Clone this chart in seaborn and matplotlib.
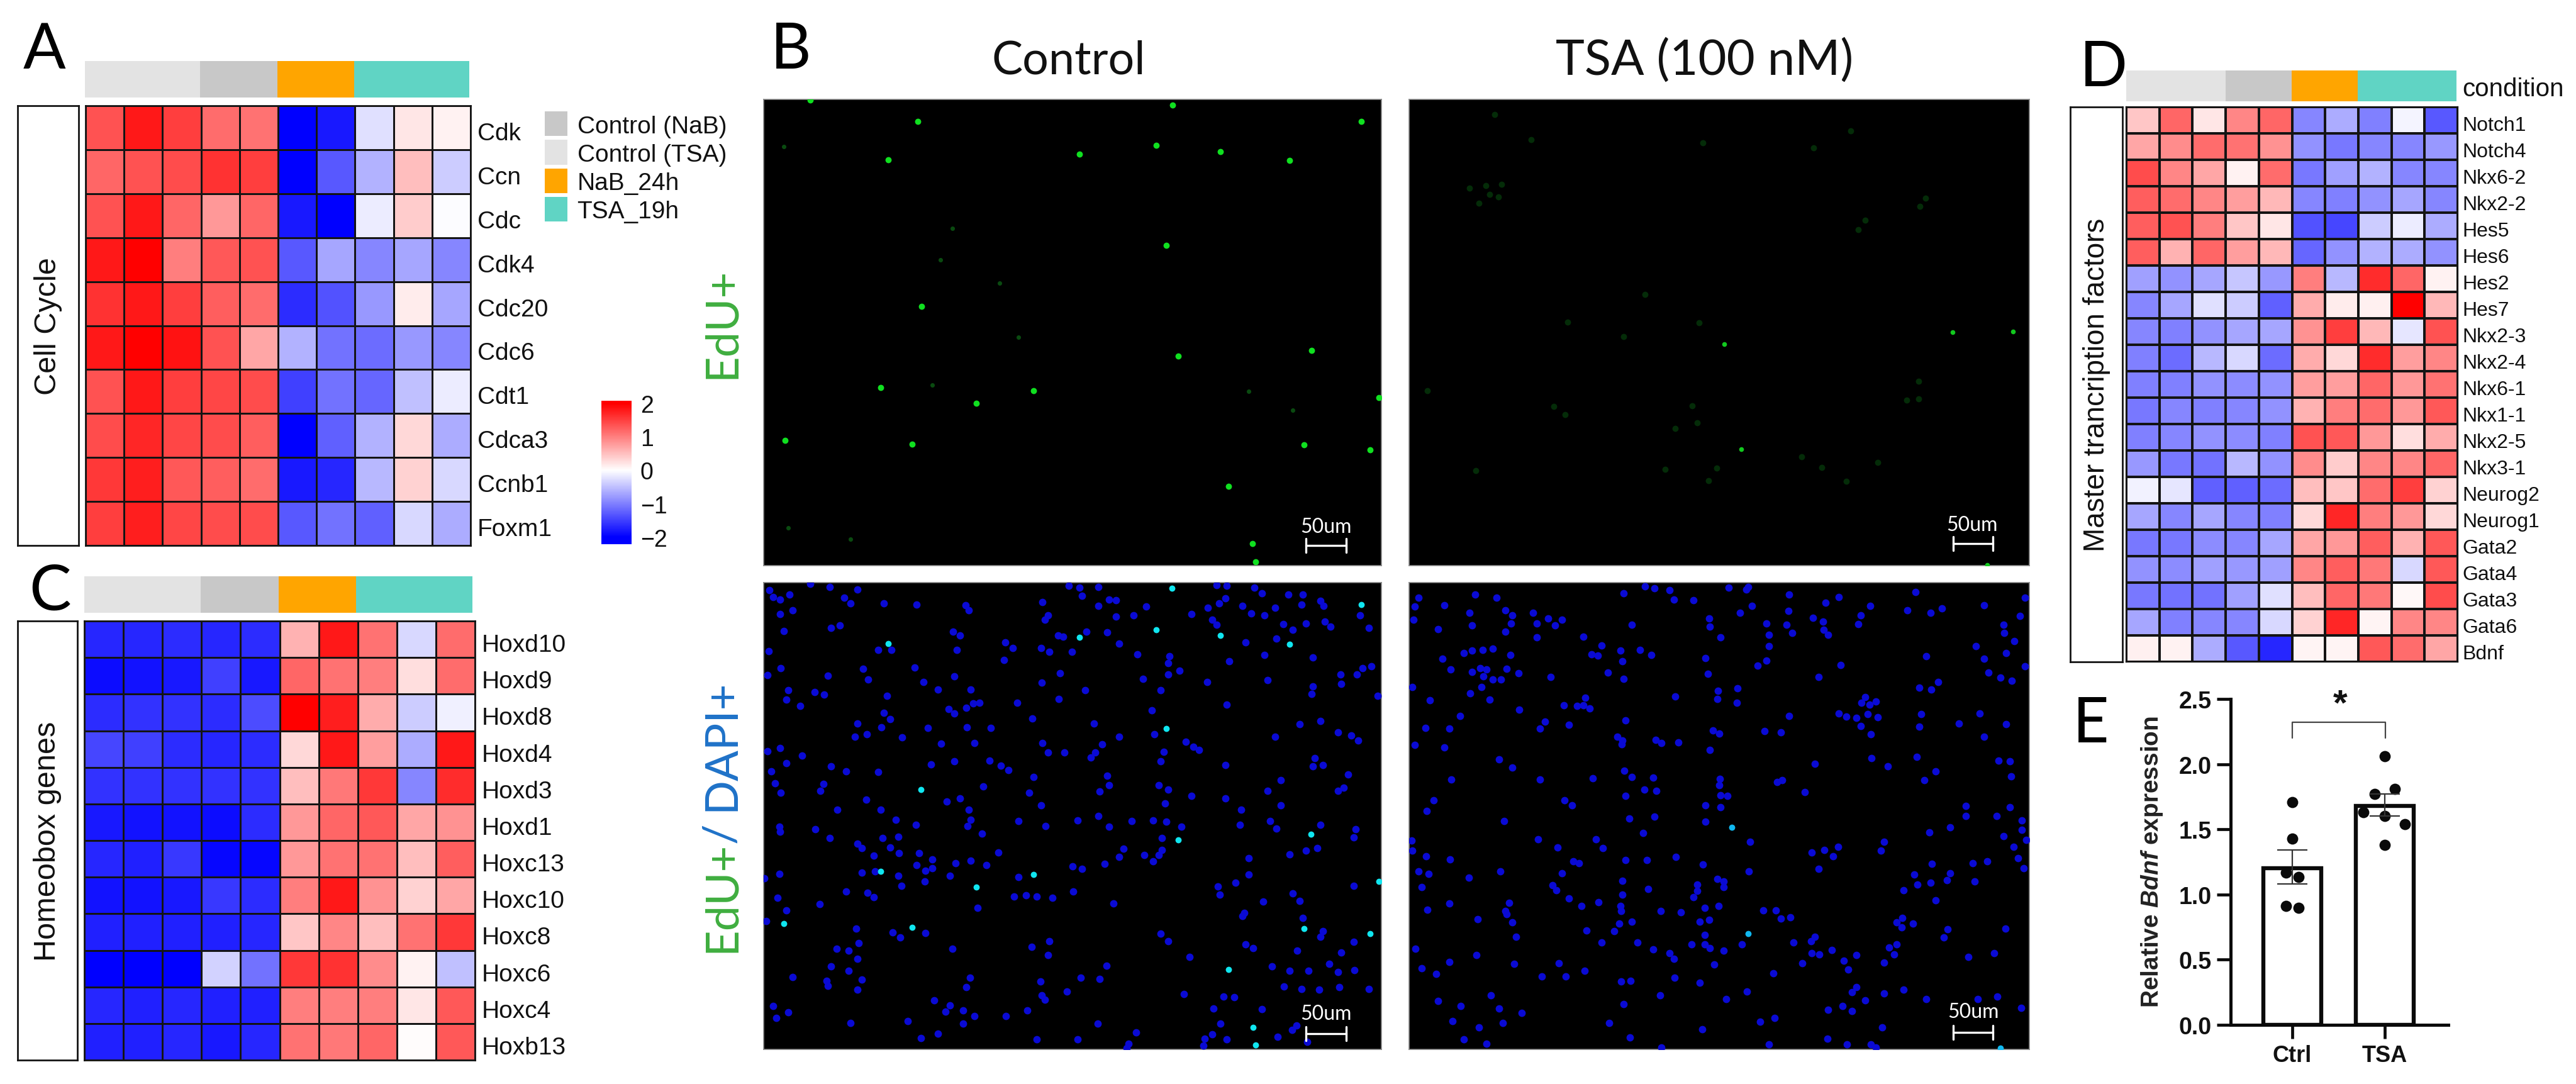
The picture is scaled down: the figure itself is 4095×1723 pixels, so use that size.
import numpy as np
import pandas as pd
import matplotlib
matplotlib.use("Agg")
import matplotlib.pyplot as plt
from matplotlib.colors import ListedColormap, LinearSegmentedColormap
from matplotlib.transforms import ScaledTranslation
import seaborn as sns

W, H = 4095, 1724
DPI = 100

# ---------- DATA ----------
genes_a = ["Cdk", "Ccn", "Cdc", "Cdk4", "Cdc20", "Cdc6", "Cdt1", "Cdca3", "Ccnb1", "Foxm1"]
values_a = [
    [1.35, 1.8, 1.5, 1.15, 1.1, -2, -1.8, -.25, .2, .1],
    [1.2, 1.35, 1.4, 1.6, 1.5, -2, -1.3, -.6, .5, -.4],
    [1.35, 1.8, 1.2, .8, 1.2, -1.8, -2, -.15, .4, -.03],
    [1.8, 2, 1.0, 1.3, 1.35, -1.3, -.7, -.95, -.7, -.95],
    [1.6, 1.8, 1.5, 1.25, 1.15, -1.65, -1.35, -.8, .15, -.7],
    [1.8, 2, 1.85, 1.35, .7, -.6, -1.1, -1.15, -.8, -.95],
    [1.35, 1.8, 1.5, 1.45, 1.4, -1.5, -1.1, -1.2, -.5, -.15],
    [1.4, 1.7, 1.45, 1.4, 1.25, -2, -1.25, -.6, .3, -.65],
    [1.55, 1.75, 1.3, 1.25, 1.15, -1.8, -1.7, -.55, .35, -.3],
    [1.5, 1.75, 1.45, 1.4, 1.4, -1.3, -1.1, -1.25, -.3, -.65],
]
genes_c = ["Hoxd10", "Hoxd9", "Hoxd8", "Hoxd4", "Hoxd3", "Hoxd1", "Hoxc13", "Hoxc10", "Hoxc8", "Hoxc6", "Hoxc4", "Hoxb13"]
values_c = [
    [-1.7, -1.7, -1.65, -1.7, -1.65, .6, 1.8, 1.1, -.3, 1.15],
    [-1.9, -1.85, -1.8, -1.5, -1.8, 1.2, 1.1, 1.0, .25, 1.15],
    [-1.65, -1.6, -1.6, -1.65, -1.4, 2, 1.75, .65, -.4, -.12],
    [-1.45, -1.5, -1.65, -1.7, -1.65, .3, 1.8, .75, -.65, 1.8],
    [-1.6, -1.6, -1.6, -1.6, -1.6, .5, 1.05, 1.55, -.95, 1.65],
    [-1.8, -1.85, -1.85, -1.9, -1.65, .8, 1.2, 1.3, .7, .85],
    [-1.7, -1.75, -1.55, -1.95, -1.95, .8, 1.1, 1.1, .5, 1.25],
    [-1.85, -1.85, -1.8, -1.55, -1.65, 1.0, 1.8, .85, .35, .7],
    [-1.75, -1.75, -1.75, -1.75, -1.7, .45, .95, .5, 1.1, 1.55],
    [-2, -2, -2, -.35, -1.1, 1.55, 1.6, .9, .1, -.5],
    [-1.7, -1.75, -1.7, -1.75, -1.75, 1.0, 1.0, 1.0, .2, 1.3],
    [-1.75, -1.75, -1.7, -1.8, -1.7, 1.1, 1.05, 1.2, .03, 1.3],
]
genes_d = ["Notch1", "Notch4", "Nkx6-2", "Nkx2-2", "Hes5", "Hes6", "Hes2", "Hes7", "Nkx2-3", "Nkx2-4", "Nkx6-1",
           "Nkx1-1", "Nkx2-5", "Nkx3-1", "Neurog2", "Neurog1", "Gata2", "Gata4", "Gata3", "Gata6", "Bdnf"]
values_d = [
    [.45, 1.2, .2, .95, 1.2, -.95, -.65, -1, -.08, -1.3],
    [.7, .9, 1.15, 1.1, .85, -.85, -1.05, -.95, -.95, -.8],
    [1.4, .95, .7, .1, 1.15, -1.05, -.75, -.6, -.95, -.95],
    [1.25, 1.15, .95, .75, .55, -.95, -1.0, -.85, -.7, -.95],
    [1.25, 1.35, 1.0, .45, .2, -1.35, -1.45, -.4, -.15, -.65],
    [1.25, .6, 1.2, .75, .55, -1.2, -.85, -.6, -.65, -.85],
    [-.75, -.85, -.7, -.45, -.8, 1.0, -.55, 1.65, 1.2, .1],
    [-.95, -.7, -.25, -.4, -1.25, .65, .15, .12, 2.0, .55],
    [-.95, -1.0, -.85, -.7, -.7, .85, 1.5, .55, -.2, 1.35],
    [-1.0, -1.15, -.55, -.3, -1.15, .65, .3, 1.65, .75, .95],
    [-1, -1, -.85, -.9, -.85, .75, .75, 1.2, .8, 1.1],
    [-1.05, -.95, -1, -.95, -.85, .6, 1.0, 1.15, .8, 1.3],
    [-1, -.95, -.85, -.9, -1, 1.35, 1.3, .8, .25, .65],
    [-.8, -1.05, -1.1, -.55, -.85, .9, .4, .95, .95, 1.2],
    [-.1, -.2, -1.25, -1.25, -1.15, .5, .45, 1.15, 1.5, .35],
    [-.7, -.95, -.7, -.95, -1, .3, 1.7, 1.0, .8, .3],
    [-1.05, -1.05, -.9, -.95, -.7, .7, .8, 1.25, .6, 1.3],
    [-.85, -.9, -.75, -.8, -.75, .95, 1.25, 1.05, -.3, 1.3],
    [-1.05, -1.1, -1.1, -.75, -.25, .5, 1.2, 1.05, .05, 1.4],
    [-.7, -1, -.95, -.95, -.3, .35, 1.7, .08, .95, .95],
    [.12, .1, -.65, -1.3, -1.7, .08, .08, 1.3, 1.15, .7],
]
condition_codes = [1, 1, 1, 0, 0, 2, 2, 3, 3, 3]
legend_labels = ["Control (NaB)", "Control (TSA)", "NaB_24h", "TSA_19h"]
legend_codes = [0, 1, 2, 3]
condition_colors = ["#c8c8c8", "#e3e3e3", "#ffa500", "#60d4c4"]

# Bar panel E
bar_labels = ["Ctrl", "TSA"]
bar_means = [1.20, 1.68]
bar_err_low = [1.08, 1.60]
bar_err_high = [1.34, 1.77]
pts_x = [0, 0, -.07, .065, -.07, .065, 1, 1.11, .89, .77, 1, 1.22, 1]
pts_y = [1.71, 1.43, 1.17, 1.135, .91, .896, 2.06, 1.81, 1.77, 1.63, 1.60, 1.54, 1.38]

# Micrograph spots (x, y within each field's reading grid)
edu_ctrl_bright = [(445,445),(878,428),(1053,405),(1198,422),(1355,446),(1517,338),(1090,293),(512,338),(268,278),(1075,681),
    (521,850),(1405,972),(1103,988),(428,1075),(775,1083),(645,1118),(1558,1102),(211,1221),(500,1231),(1388,1233),
    (1537,1247),(1217,1348),(1271,1507),(1278,1558)]
edu_ctrl_dim = [(208,408),(563,722),(590,635),(697,785),(741,935),(545,1068),(218,1463),(360,1495),(1262,1085),(1362,1137)]
edu_tsa_bright = [(840,1167),(798,821),(1515,780),(1365,782),(1450,1545)]
edu_tsa_dim = [(228,67),(745,160),(318,150),(1020,178),(1112,122),(1283,368),(1298,343),(1130,445),(1148,415),(600,658),
    (548,797),(408,748),(735,750),(1280,1000),(1250,1005),(1280,942),(718,1024),(403,1052),(375,1026),(675,1097),(730,1080),
    (180,1237),(778,1228),(758,1270),(990,1190),(1040,1225),(1178,1210),(1100,1272),(650,1233),(60,973),(205,300),(245,297),
    (165,310),(215,330),(188,358),(237,338)]
merge_ctrl_cyan = [(445,237),(878,218),(1053,195),(1198,212),(1355,238),(1517,118),(1088,70),(1075,493),(520,678),(1403,812),
    (1102,830),(428,925),(775,935),(645,972),(1558,955),(208,1083),(500,1095),(1388,1097),(1537,1113),(1217,1222),(1272,1396),(1278,1450)]
merge_tsa_cyan = [(845,792),(885,1113),(1497,1460)]
dapi_ctrl = [(268,55),(312,65),(176,75),(185,95),(222,88),(200,103),(375,72),(345,98),(360,115),(435,115),(510,118),(620,120),
    (628,135),(855,62),(878,68),(922,65),(885,92),(945,103),(962,105),(922,122),(1030,125),(1190,60),(1212,62),(1275,68),(1292,85),
    (1195,115),(1170,128),(1210,100),(1248,122),(1322,128),(1352,88),(1385,88),(1382,118),(1425,108),(1432,122),(1515,150),(1268,145),
    (1298,150),(1133,148),(1180,165),(1190,180),(1340,178),(1392,175),(1362,195),(1435,170),(1448,185),(1535,188),(200,148),(228,135),
    (808,150),(800,165),(795,110),(962,155),(1002,150),(830,212),(842,215),(895,200),(942,202),(592,200),(608,212),(208,198),(315,188),
    (335,182),(452,255),(710,232),(728,250),(792,250),(810,262),(862,262),(968,237),(1255,232),(1325,222),(175,260),(422,255),(600,255),
    (1010,268),(1082,275),(1298,270),(1408,278),(708,285),(1218,290),(1080,295),(202,310),(172,332),(308,333),(388,312),(400,345),(505,308),
    (595,335),(525,352),(835,325),(793,355),(1080,330),(1105,318),(1022,342),(1168,352),(1305,347),(1470,330),(1507,330),(1520,310),(1540,305),
    (1472,358),(1408,365),(558,375),(632,375),(218,378),(215,405),(278,382),(442,395),(300,390),(892,378),(1062,378),(1405,388),(1555,395),
    (832,403),(738,415),(622,430),(638,418),(652,415),(1212,420),(245,425),(582,435),(595,447),(435,445),(1043,438),(450,465),(772,462),(375,478),
    (430,490),(912,478),(535,492),(624,490),(677,492),(397,510),(370,517),(477,520),(1048,510),(968,517),(1495,515),(1510,530),(1322,518),(1120,533),
    (795,537),(565,538),(640,537),(930,540),(1137,548),(1150,557),(200,553),(172,562),(845,565),(808,565),(915,565),(1070,563),(250,575),(905,580),
    (1378,480),(1425,470),(1465,505),(1412,582),(675,590),(595,592),(1063,593),(542,602),(215,598),(700,605),(718,618),(1210,603),(1430,603),(1408,607),
    (315,607),(350,622),(422,625),(180,623),(942,635),(775,640),(1335,650),(1488,632),(945,665),(1058,665),(298,660),(188,658),(660,668),(1478,672),
    (1465,682),(292,682),(202,687),(1080,677),(1305,682),(765,687),(925,683),(1132,697),(1210,705),(395,708),(578,713),(792,725),(1245,738),(1335,725),
    (330,738),(428,738),(608,705),(628,738),(1072,720),(1045,770),(1075,775),(922,757),(462,768),(740,772),(875,770),(997,772),(632,768),(508,785),
    (802,788),(1110,790),(625,788),(198,790),(1242,785),(1310,772),(1425,785),(1505,797),(1325,795),(945,790),(280,798),(200,805),(658,810),(312,825),
    (468,820),(432,825),(1500,822),(375,842),(1065,825),(385,855),(450,853),(470,870),(515,870),(978,857),(412,878),(1065,860),(695,867),(1392,862),
    (1418,855),(1355,873),(545,888),(632,892),(968,882),(1058,875),(1025,875),(1045,895),(598,900),(510,905),(668,905),(1262,885),(415,925),(385,928),
    (530,922),(545,915),(863,910),(885,918),(935,902),(198,933),(468,938),(585,938),(1262,935),(1232,960),(740,942),(165,945),(528,955),(475,968),(1500,968),
    (1192,970),(350,985),(398,990),(412,1003),(1197,995),(730,1000),(758,998),(782,1000),(818,1005),(865,985),(1362,992),(195,1005),(1295,1017),(1378,1015),
    (290,1023),(955,1022),(648,1035),(1252,1050),(1248,1060),(1385,1065),(215,1043),(168,1075),(372,1097),(1430,1105),(455,1110),(530,1112),(472,1125),
    (1062,1113),(1080,1135),(1425,1122),(378,1142),(1500,1138),(810,1135),(1255,1145),(328,1158),(770,1153),(590,1158),(355,1165),(1272,1157),(1372,1165),
    (1472,1170),(808,1178),(1128,1183),(375,1190),(1445,1205),(940,1210),(1315,1212),(315,1212),(355,1225),(1397,1225),(1502,1223),(1355,1225),(1465,1230),
    (228,1245),(305,1255),(385,1252),(925,1250),(630,1247),(882,1247),(790,1258),(308,1270),(622,1275),(375,1282),(1342,1272),(1382,1280),(1422,1282),(1468,1275),
    (850,1288),(793,1300),(800,1312),(1205,1303),(550,1315),(1230,1305),(1115,1295),(1535,1280),(585,1330),(575,1348),(615,1345),(760,1345),(185,1332),(218,1350),
    (1292,1342),(640,1362),(712,1362),(1183,1340),(1198,1385),(490,1378),(360,1383),(192,1368),(615,1385),(920,1385),(1370,1390),(1360,1405),(1007,1412),(520,1428),
    (558,1415),(875,1432),(1328,1425),(1180,1417),(1162,1430),(1212,1432),(782,1433),(990,1445),(985,1460),(1395,1440),(1160,1452)]
dapi_tsa = [(635,63),(658,70),(695,75),(705,103),(752,105),(838,68),(885,65),(880,72),(985,88),(1105,95),(1292,80),(1355,130),(1328,143),(1272,135),(1458,120),
    (1558,98),(1545,153),(275,98),(222,88),(85,97),(75,125),(148,120),(583,85),(208,143),(295,135),(313,150),(363,143),(400,160),(433,165),(372,175),(417,182),(72,165),
    (215,182),(133,193),(603,180),(310,175),(295,200),(372,218),(485,215),(790,160),(792,185),(865,143),(895,122),(983,137),(978,180),(992,205),(930,175),(935,210),(1073,113),
    (1042,158),(1067,170),(1068,195),(1080,210),(1158,150),(1152,178),(1182,122),(1505,180),(1507,205),(1532,228),(818,218),(530,242),(575,258),(623,255),(650,270),(505,268),
    (520,272),(580,290),(782,280),(935,245),(1438,245),(1512,265),(1317,275),(1458,282),(195,265),(215,258),(240,255),(265,252),(308,270),(143,283),(163,315),(215,322),(235,310),
    (250,315),(298,312),(328,325),(242,335),(265,345),(285,345),(405,338),(545,323),(583,342),(788,327),(908,303),(930,288),(1110,302),(1057,337),(1468,323),(1497,340),(1525,348),
    (1558,305),(1347,352),(1330,375),(1300,370),(237,367),(70,367),(210,387),(258,405),(112,408),(708,397),(860,372),(810,403),(858,415),(490,400),(812,380),(438,422),(470,425),
    (485,423),(500,433),(330,436),(1170,398),(1160,415),(1180,420),(1195,412),(1105,447),(1123,457),(1148,460),(1175,450),(1200,458),(1305,450),(1448,447),(185,455),(392,472),
    (587,468),(1397,478),(1512,480),(380,493),(102,492),(160,494),(1158,485),(450,482),(985,456),(1300,487),(800,498),(925,500),(965,505),(815,508),(1183,510),(1458,517),(568,517),
    (580,530),(578,540),(660,527),(675,537),(715,535),(75,542),(148,550),(792,558),(280,587),(1185,582),(1295,578),(1047,600),(1225,607),(1493,590),(1520,593),(312,612),(585,620),
    (602,640),(655,642),(1340,622),(1523,637),(165,648),(380,648),(508,643),(1313,650),(817,645),(955,655),(968,650),(633,677),(663,682),(815,665),(1023,685),(587,697),(835,697),
    (818,695),(122,710),(440,710),(457,725),(782,725),(1413,727),(1520,730),(818,730),(105,743),(1488,758),(1413,758),(597,765),(658,760),(292,772),(782,775),(1375,792),(1325,807),
    (1505,818),(630,808),(1550,770),(1550,800),(1560,830),(1530,850),(375,828),(515,827),(890,835),(1215,835),(68,832),(422,853),(533,855),(1207,862),(1103,850),(70,863),(1040,867),
    (1070,860),(1092,880),(103,880),(162,888),(710,882),(587,890),(640,890),(460,895),(475,900),(775,903),(1332,902),(1465,895),(1430,900),(1540,885),(1057,917),(1555,915),(85,925),
    (110,932),(283,925),(887,925),(433,930),(1288,935),(1375,930),(207,943),(580,953),(810,948),(825,955),(826,972),(762,965),(1368,952),(1435,955),(1328,960),(1296,965),(92,972),
    (410,967),(420,982),(642,978),(762,983),(1262,982),(580,995),(752,1003),(450,1007),(1340,1013),(522,1018),(160,1022),(305,1020),(480,1030),(575,1030),(780,1035),(813,1030),(107,1040),
    (295,1045),(577,1045),(673,1045),(722,1048),(922,1043),(952,1043),(988,1063),(298,1055),(965,1068),(228,1070),(790,1072),(312,1078),(602,1077),(768,1077),(572,1083),(1245,1078),
    (1260,1065),(1285,1083),(1258,1095),(560,1105),(1510,1097),(493,1103),(322,1122),(780,1117),(1047,1122),(1370,1100),(1360,1125),(530,1140),(617,1140),(748,1145),(780,1145),(995,1140),
    (1038,1135),(870,1145),(792,1157),(1245,1145),(1228,1155),(655,1160),(1088,1162),(77,1158),(825,1165),(1240,1175),(1040,1173),(1058,1175),(1148,1178),(695,1172),(225,1178),(1482,1172),
    (1420,1183),(705,1190),(1118,1195),(160,1198),(1017,1203),(1215,1200),(425,1202),(317,1205),(803,1207),(92,1217),(128,1235),(442,1243),(385,1243),(1128,1222),(947,1232),(488,1225),
    (707,1247),(600,1255),(577,1258),(768,1262),(1148,1275),(1263,1282),(1137,1290),(882,1288),(1215,1293),(672,1300),(260,1300),(133,1317),(832,1310),(1318,1310),(1170,1315),(1490,1303),
    (1442,1310),(583,1327),(187,1332),(280,1340),(1115,1332),(1137,1347),(1548,1338),(1080,1343),(335,1353),(168,1378),(915,1380),(950,1367),(290,1383),(548,1383),(232,1397),(1210,1397),
    (773,1402),(195,1432),(598,1427),(1077,1430),(1125,1447),(935,1447),(1183,1447),(675,1457),(1195,1458),(250,1445)]

# ---------- STYLE ----------
sns.set_theme(style="white")
plt.rcParams["font.family"] = ["Liberation Sans", "DejaVu Sans"]
plt.rcParams["mathtext.fontset"] = "custom"
plt.rcParams["mathtext.it"] = "Liberation Sans:italic:bold"
plt.rcParams["mathtext.rm"] = "Liberation Sans:bold"

fig = plt.figure(figsize=(W / DPI, H / DPI), dpi=DPI, facecolor="white")


def px_axes(x0, y0, x1, y1):
    """Axes placed by pixel box in the output picture (y from the top)."""
    return fig.add_axes([x0 / W, 1 - y1 / H, (x1 - x0) / W, (y1 - y0) / H])


def px_text(x, y, s, **kw):
    return fig.text(x / W, 1 - y / H, s, **kw)


def drop_labels(ax, px):
    for lab in ax.get_yticklabels():
        lab.set_transform(lab.get_transform() + ScaledTranslation(0, -px / DPI, fig.dpi_scale_trans))


heat_cmap = LinearSegmentedColormap.from_list("bwr2", ["#0000ff", "#ffffff", "#ff0000"])
cond_cmap = ListedColormap(condition_colors)


def heat_panel(box, ann_box, side_box, values, genes, side_label, side_size, label_size, pad, lw, cax=None):
    ann = px_axes(*ann_box)
    sns.heatmap(np.array([condition_codes]), ax=ann, cmap=cond_cmap, vmin=-.5, vmax=3.5, cbar=False,
                xticklabels=False, yticklabels=False)
    ax = px_axes(*box)
    frame = pd.DataFrame(values, index=genes)
    if cax is not None:
        kw = dict(cbar=True, cbar_ax=cax,
                  cbar_kws=dict(ticks=[-2, -1, 0, 1, 2], extend="both", extendrect=True,
                                extendfrac=[0.052, 0.019]))
    else:
        kw = dict(cbar=False)
    sns.heatmap(frame, ax=ax, cmap=heat_cmap, vmin=-2, vmax=2, linewidths=lw, linecolor="#141414",
                xticklabels=False, yticklabels=True, **kw)
    ax.yaxis.tick_right()
    ax.set_yticklabels(genes, rotation=0, fontsize=label_size, color="#111111")
    ax.tick_params(axis="y", length=0, pad=pad)
    ax.set_ylabel("")
    drop_labels(ax, 5)
    for s in ax.spines.values():
        s.set_visible(True)
        s.set_color("#141414")
        s.set_linewidth(lw)
    side = px_axes(*side_box)
    side.set_xticks([])
    side.set_yticks([])
    for s in side.spines.values():
        s.set_color("#141414")
        s.set_linewidth(2)
    side.text(0.5, 0.5, side_label, rotation=90, ha="center", va="center", fontsize=side_size,
              color="#111111", transform=side.transAxes)
    return ax


# ---------- PANEL A ----------
cax_a = px_axes(956, 638, 1004, 866)
ax_a = heat_panel((136, 169, 748, 868), (135, 98, 746, 156), (28, 169, 125, 868),
                  values_a, genes_a, "Cell Cycle", 35, 28, 8, 2.0, cax=cax_a)
cax_a.tick_params(axis="y", direction="in", color="white", length=7, width=1.5, left=True, right=True,
                  labelsize=27, pad=10, labelcolor="#111111")
for s in cax_a.spines.values():
    s.set_visible(False)

# condition legend drawn as a one-column table of swatches
leg = px_axes(863, 175, 905, 356)
sns.heatmap(pd.DataFrame({"c": legend_codes}, index=legend_labels), ax=leg, cmap=cond_cmap, vmin=-.5, vmax=3.5,
            cbar=False, linewidths=3, linecolor="white", xticklabels=False, yticklabels=True)
leg.yaxis.tick_right()
leg.set_yticklabels(legend_labels, rotation=0, fontsize=28, color="#111111")
leg.tick_params(axis="y", length=0, pad=9)
leg.set_ylabel("")

# ---------- PANEL C ----------
heat_panel((134, 988, 755, 1686), (134, 917, 751, 975), (28, 988, 123, 1686),
           values_c, genes_c, "Homeobox genes", 35, 28, 8, 2.0)

# ---------- PANEL D ----------
heat_panel((3380, 171, 3907, 1053), (3380, 113, 3905, 162), (3291, 171, 3374, 1053),
           values_d, genes_d, "Master trancription factors", 33, 23, 5, 1.6)
px_text(3914, 142, "condition", fontsize=29, va="center", ha="left", color="#111111")


# ---------- PANEL B ----------
def field(box, grid, layers, bar_px, text_px):
    ax = px_axes(*box)
    ax.set_facecolor("black")
    for pts, color, size in layers:
        d = pd.DataFrame(pts, columns=["x", "y"])
        sns.scatterplot(data=d, x="x", y="y", ax=ax, color=color, s=size, linewidth=0, legend=False, zorder=3)
    ax.set_xlim(grid[0], grid[1])
    ax.set_ylim(grid[3], grid[2])
    ax.set_xticks([])
    ax.set_yticks([])
    ax.set_xlabel("")
    ax.set_ylabel("")
    for s in ax.spines.values():
        s.set_color("#8a8a8a")
        s.set_linewidth(1.2)
    # scale bar
    t = ax.transData.inverted()

    def to_data(px, py):
        return t.transform((px, H - py))
    xa, yc = to_data(bar_px[0], bar_px[2])
    xb, _ = to_data(bar_px[1], bar_px[2])
    _, y_up = to_data(bar_px[0], bar_px[2] - 11)
    _, y_dn = to_data(bar_px[0], bar_px[2] + 11)
    ax.plot([xa, xb], [yc, yc], color="white", lw=2.4, zorder=5)
    ax.plot([xa, xa], [y_up, y_dn], color="white", lw=2.4, zorder=5)
    ax.plot([xb, xb], [y_up, y_dn], color="white", lw=2.4, zorder=5)
    tx, ty = to_data(*text_px)
    ax.text(tx, ty, "50um", color="white", fontsize=23, family="Lato", ha="center", va="center", zorder=5)
    return ax


field((1214, 159, 2196, 900), (163, 1563, 277, 1568),
      [(edu_ctrl_dim, "#0a4a10", 26), (edu_ctrl_bright, "#10e020", 50)], (2076, 2140, 868), (2108, 838))
field((2240, 159, 3226, 900), (15, 1555, 18, 1548),
      [(edu_tsa_dim, "#042c08", 50), (edu_tsa_bright, "#12c81e", 30)], (3105, 3168, 865), (3135, 835))
field((1214, 927, 2196, 1669), (163, 1563, 52, 1463),
      [(dapi_ctrl, "#0a0ad4", 72), (merge_ctrl_cyan, "#10e6f0", 50)], (2076, 2140, 1644), (2108, 1612))
field((2240, 927, 3226, 1669), (62, 1568, 52, 1463),
      [(dapi_tsa, "#0a0ad4", 72), (merge_tsa_cyan, "#10b8f0", 50)], (3105, 3168, 1642), (3137, 1609))

px_text(1699, 97, "Control", fontsize=53, family="Lato", ha="center", va="center", color="#111111")
px_text(2710, 97, "TSA (100 nM)", fontsize=56, family="Lato", ha="center", va="center", color="#111111")
GREEN, BLUE = "#3fae3f", "#1f72c8"
px_text(1147, 602, "EdU+", fontsize=52, family="Lato", color=GREEN, rotation=90, ha="center", va="bottom")
px_text(1147, 1514, "EdU+", fontsize=52, family="Lato", color=GREEN, rotation=90, ha="center", va="bottom")
px_text(1147, 1340, "/", fontsize=52, family="Lato", color=BLUE, rotation=90, ha="center", va="bottom")
px_text(1147, 1289, "DAPI+", fontsize=52, family="Lato", color=BLUE, rotation=90, ha="center", va="bottom")

# ---------- PANEL E ----------
ax_e = px_axes(3546, 1112, 3892, 1630)
d_bar = pd.DataFrame({"group": bar_labels, "mean": bar_means})
sns.barplot(data=d_bar, x="group", y="mean", ax=ax_e, width=0.63, fill=False, color="black", linewidth=4.6,
            errorbar=None, zorder=2)
for patch in ax_e.patches:
    patch.set_edgecolor("#0a0a0a")
d_pts = pd.DataFrame({"x": pts_x, "y": pts_y})
sns.scatterplot(data=d_pts, x="x", y="y", ax=ax_e, color="#0a0a0a", s=165, linewidth=0, legend=False, zorder=4, clip_on=False)
ax_e.errorbar([0, 1], bar_means,
              yerr=[np.array(bar_means) - np.array(bar_err_low), np.array(bar_err_high) - np.array(bar_means)],
              fmt="none", ecolor="#333333", elinewidth=1.6, capsize=17, capthick=1.6, zorder=5)
ax_e.set_xlim(-.667, 1.687)
ax_e.set_ylim(0, 2.5)
ax_e.set_yticks([0, .5, 1, 1.5, 2, 2.5])
ax_e.set_yticklabels(["0.0", "0.5", "1.0", "1.5", "2.0", "2.5"], fontsize=27, fontweight="bold", color="#111111")
ax_e.set_xticks([0, 1])
ax_e.set_xticklabels(bar_labels, fontsize=26, fontweight="bold", color="#111111")
ax_e.tick_params(axis="both", length=16, width=3.4, color="#0a0a0a", bottom=True, left=True, pad=6)
ax_e.set_xlabel("")
ax_e.set_ylabel("")
sns.despine(ax=ax_e)
for side in ("left", "bottom"):
    ax_e.spines[side].set_linewidth(3.6)
    ax_e.spines[side].set_color("#0a0a0a")
ax_e.plot([0, 0, 1.01, 1.01], [2.2, 2.32, 2.32, 2.2], color="#444444", lw=1.6, zorder=5, clip_on=False)
px_text(3720, 1122, "*", fontsize=42, fontweight="bold", ha="center", va="center", color="#111111")
px_text(3421, 1370, r"Relative $\mathit{Bdnf}$ expression", fontsize=28, fontweight="bold", rotation=90,
        ha="center", va="center", color="#222222")

# ---------- PANEL LETTERS ----------
for letter, x, y in [("A", 37, 109), ("B", 1225, 109), ("C", 46, 969), ("D", 3306, 137), ("E", 3295, 1180)]:
    px_text(x, y, letter, fontsize=72, family="Lato", ha="left", va="baseline", color="black")

fig.savefig("out.png", dpi=DPI, facecolor="white")
